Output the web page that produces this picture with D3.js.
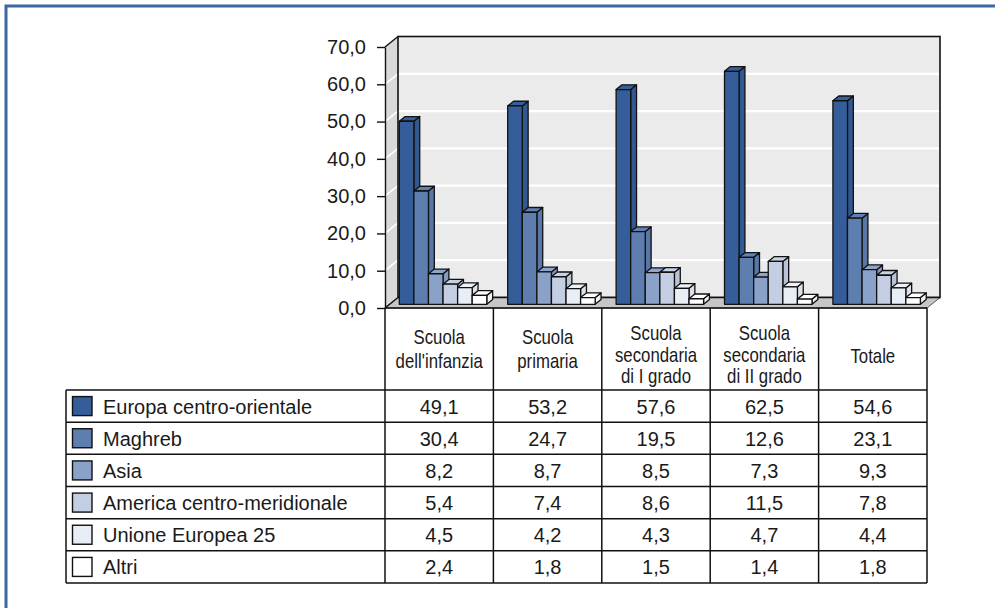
<!DOCTYPE html>
<html>
<head>
<meta charset="utf-8">
<script src="https://cdnjs.cloudflare.com/ajax/libs/d3/7.8.5/d3.min.js"></script>
<style>
  html, body { margin: 0; padding: 0; background: #ffffff; }
  svg { display: block; }
  text { font-family: "Liberation Sans", Arial, Helvetica, sans-serif; fill: #1a1a1a; }
</style>
</head>
<body>
<svg id="chart" width="995" height="608"></svg>
<script>
// School levels (columns of the data table)
const categories = ["Scuola dell'infanzia", "Scuola primaria", "Scuola secondaria di I grado", "Scuola secondaria di II grado", "Totale"];
const categoryLines = [["Scuola", "dell'infanzia"], ["Scuola", "primaria"], ["Scuola", "secondaria", "di I grado"], ["Scuola", "secondaria", "di II grado"], ["Totale"]];

// Areas of origin (rows of the data table)
const seriesNames = ["Europa centro-orientale", "Maghreb", "Asia", "America centro-meridionale", "Unione Europea 25", "Altri"];
const seriesColors = ["#355d9a", "#5e7eb0", "#8ba2c8", "#c3cee3", "#e9edf6", "#ffffff"];

// Percentages per area, one value per school level
const europaCentroOrientale = [49.1, 53.2, 57.6, 62.5, 54.6];
const maghreb = [30.4, 24.7, 19.5, 12.6, 23.1];
const asia = [8.2, 8.7, 8.5, 7.3, 9.3];
const americaCentroMeridionale = [5.4, 7.4, 8.6, 11.5, 7.8];
const unioneEuropea25 = [4.5, 4.2, 4.3, 4.7, 4.4];
const altri = [2.4, 1.8, 1.5, 1.4, 1.8];
const seriesValues = [europaCentroOrientale, maghreb, asia, americaCentroMeridionale, unioneEuropea25, altri];

const yTicks = [0, 10, 20, 30, 40, 50, 60, 70];

const it = d3.formatLocale({ decimal: ",", thousands: ".", grouping: [3], currency: ["", " €"] });
const fmt = it.format(".1f");

const svg = d3.select("#chart");

// Outer frame
svg.append("rect")
  .attr("x", 6).attr("y", 6).attr("width", 1300).attr("height", 1000)
  .attr("fill", "none").attr("stroke", "#3d66a7").attr("stroke-width", 3);

// Plot geometry (oblique 3D box)
const X0 = 385, X1 = 927;        // front floor edge
const DX = 13, DY = -10.5;       // depth offset of the box
const y = d3.scaleLinear().domain([0, 70]).range([308, 47]);
const x = d3.scaleBand().domain(categories).range([X0, X1]);
const bw = x.bandwidth();
const xs = d3.scaleBand().domain(seriesNames).range([bw * 0.09, bw * 0.897]);

const g = svg.append("g");

// Left wall
g.append("path")
  .attr("d", `M${X0},${y(70)} L${X0 + DX},${y(70) + DY} L${X0 + DX},${y(0) + DY} L${X0},${y(0)} Z`)
  .attr("fill", "#d9d9d9");

// Back wall
g.append("rect")
  .attr("x", X0 + DX).attr("y", y(70) + DY)
  .attr("width", X1 - X0).attr("height", y(0) - y(70))
  .attr("fill", "#ebebeb");

// Gridlines on back wall and left wall
const inner = yTicks.filter(t => t > 0 && t < 70);
g.selectAll(".grid-back").data(inner).join("line")
  .attr("x1", X0 + DX).attr("x2", X1 + DX)
  .attr("y1", d => y(d) + DY).attr("y2", d => y(d) + DY)
  .attr("stroke", "#ffffff").attr("stroke-width", 2.2);
g.selectAll(".grid-side").data(inner).join("line")
  .attr("x1", X0).attr("x2", X0 + DX)
  .attr("y1", d => y(d)).attr("y2", d => y(d) + DY)
  .attr("stroke", "#ffffff").attr("stroke-width", 1.6);

// Back wall outline
g.append("rect")
  .attr("x", X0 + DX).attr("y", y(70) + DY)
  .attr("width", X1 - X0).attr("height", y(0) - y(70))
  .attr("fill", "none").attr("stroke", "#111").attr("stroke-width", 1.6);

// Floor
g.append("path")
  .attr("d", `M${X0},${y(0)} L${X0 + DX},${y(0) + DY} L${X1 + DX},${y(0) + DY} L${X1},${y(0)} Z`)
  .attr("fill", "#c6c6c6").attr("stroke", "#555").attr("stroke-width", 1);
g.append("line")
  .attr("x1", X0 + DX).attr("x2", X1 + DX)
  .attr("y1", y(0) + DY).attr("y2", y(0) + DY)
  .attr("stroke", "#111").attr("stroke-width", 1.6);

// Left wall edges
g.append("path")
  .attr("d", `M${X0},${y(70)} L${X0 + DX},${y(70) + DY}`)
  .attr("stroke", "#111").attr("stroke-width", 1.4).attr("fill", "none");
g.append("path")
  .attr("d", `M${X0},${y(0)} L${X0 + DX},${y(0) + DY}`)
  .attr("stroke", "#111").attr("stroke-width", 1.4).attr("fill", "none");

// Y axis
const yAxis = d3.axisLeft(y).tickValues(yTicks).tickFormat(fmt).tickSize(8).tickSizeOuter(0).tickPadding(11);
const ax = svg.append("g").attr("transform", `translate(${X0},0)`).call(yAxis);
ax.select(".domain").attr("stroke", "#111").attr("stroke-width", 1.4);
ax.selectAll(".tick line").attr("stroke", "#111").attr("stroke-width", 1.4);
ax.selectAll(".tick text").attr("font-size", 20).attr("fill", "#1a1a1a")
  .style("font-family", "'Liberation Sans', Arial, sans-serif");

// Bars
const z0 = 0.35, dz = 0.45;
const bars = svg.append("g");
categories.forEach((cat, ci) => {
  seriesNames.forEach((s, si) => {
    const v = seriesValues[si][ci];
    const w = xs.bandwidth();
    const xl = x(cat) + xs(s) + z0 * DX;
    const yb = y(0) + z0 * DY;
    const yt = yb - (y(0) - y(v));
    const ddx = dz * DX, ddy = dz * DY;
    const col = d3.color(seriesColors[si]);
    const b = bars.append("g").attr("stroke", "#111").attr("stroke-width", 1.3).attr("stroke-linejoin", "round");
    b.append("path")
      .attr("d", `M${xl + w},${yt} L${xl + w + ddx},${yt + ddy} L${xl + w + ddx},${yb + ddy} L${xl + w},${yb} Z`)
      .attr("fill", col.darker(0.15));
    b.append("path")
      .attr("d", `M${xl},${yt} L${xl + ddx},${yt + ddy} L${xl + w + ddx},${yt + ddy} L${xl + w},${yt} Z`)
      .attr("fill", col.brighter(0.05));
    b.append("rect")
      .attr("x", xl).attr("y", yt).attr("width", w).attr("height", yb - yt)
      .attr("fill", col);
  });
});

// Data table
const TL = 66, headTop = y(0), rowTop = 390, rowBottom = 583;
const row = d3.scaleBand().domain(seriesNames).range([rowTop, rowBottom]);
const tbl = svg.append("g").attr("stroke", "#111").attr("stroke-width", 1.5);

// horizontal lines
tbl.append("line").attr("x1", X0).attr("x2", X1).attr("y1", headTop).attr("y2", headTop);
const hLines = seriesNames.map(s => row(s)).concat([rowBottom]);
tbl.selectAll(".hl").data(hLines).join("line")
  .attr("x1", TL).attr("x2", X1).attr("y1", d => d).attr("y2", d => d);
// vertical lines
const vLines = categories.map(c => x(c)).concat([X1]);
tbl.selectAll(".vl").data(vLines).join("line")
  .attr("x1", d => d).attr("x2", d => d).attr("y1", headTop).attr("y2", rowBottom);
tbl.append("line").attr("x1", TL).attr("x2", TL).attr("y1", rowTop).attr("y2", rowBottom);

// Header labels, set in a condensed width
const headBase = { 1: [363], 2: [344, 368], 3: [340, 361.5, 382.5] };
categories.forEach((cat, ci) => {
  const lines = categoryLines[ci];
  const bases = headBase[lines.length];
  const cx = x(cat) + bw / 2;
  lines.forEach((ln, li) => {
    svg.append("text")
      .attr("transform", `translate(${cx},${bases[li]}) scale(0.84,1)`)
      .attr("text-anchor", "middle").attr("font-size", 20)
      .text(ln);
  });
});

// Legend rows with swatches and values
seriesNames.forEach((s, si) => {
  const top = row(s), h = row.bandwidth();
  svg.append("rect")
    .attr("x", 72.5).attr("y", top + h / 2 - 9.5).attr("width", 19.5).attr("height", 19)
    .attr("fill", seriesColors[si]).attr("stroke", "#111").attr("stroke-width", 1.4);
  svg.append("text")
    .attr("x", 103).attr("y", top + h / 2 + 7.5)
    .attr("font-size", 20).text(s);
  categories.forEach((cat, ci) => {
    svg.append("text")
      .attr("x", x(cat) + bw / 2).attr("y", top + h / 2 + 7.5)
      .attr("text-anchor", "middle").attr("font-size", 20)
      .text(fmt(seriesValues[si][ci]));
  });
});
</script>
</body>
</html>
